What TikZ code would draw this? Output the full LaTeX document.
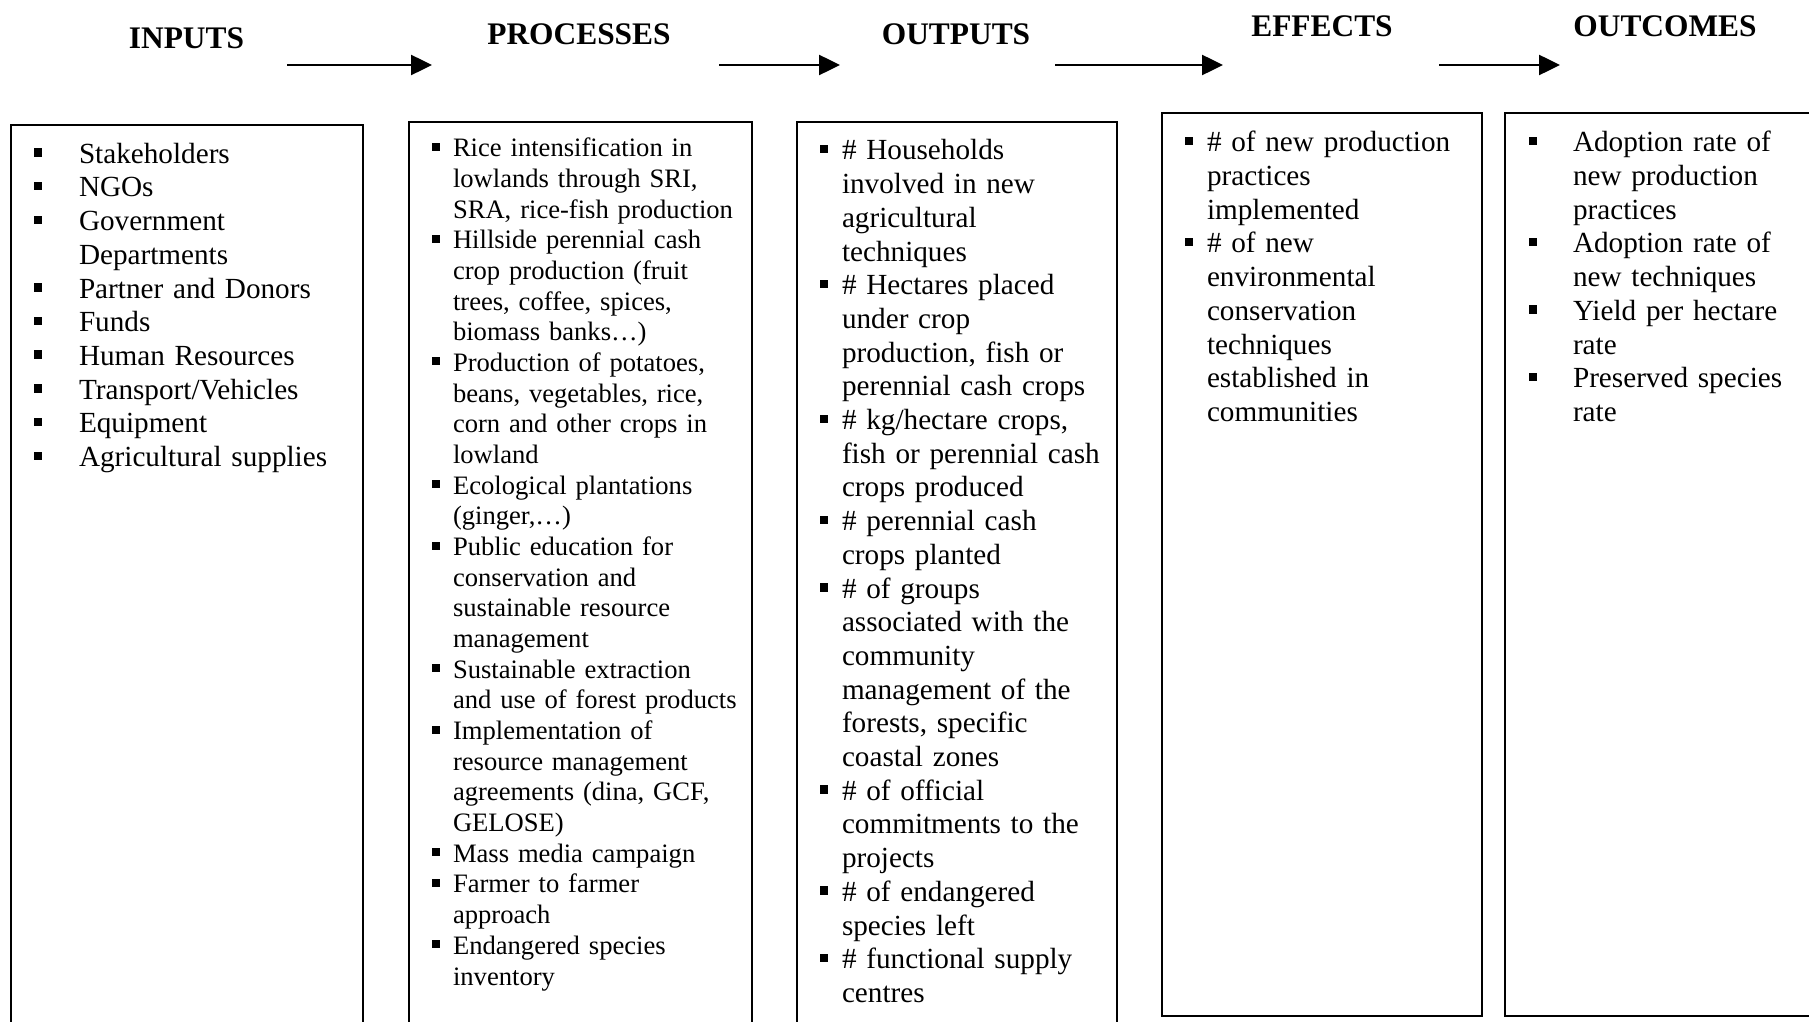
\documentclass[tikz,border=0pt]{standalone}
\usepackage{fontspec}
\setmainfont{Liberation Serif}
\usetikzlibrary{arrows.meta}
\setlength{\parindent}{0pt}
\setlength{\parskip}{0pt}
% square bullet hung to the left of a line: raise, side, gap to the text
\newcommand{\sqbul}[3]{\leavevmode\llap{\rule[#1]{#2}{#2}\hspace{#3}}}
\newcommand{\bulIn}{\sqbul{6.5pt}{8.5pt}{37pt}}
\newcommand{\bulPr}{\sqbul{6pt}{8pt}{13pt}}
\newcommand{\bulOu}{\sqbul{6.5pt}{8.5pt}{14pt}}
\newcommand{\bulEf}{\sqbul{6.5pt}{8.5pt}{14pt}}
\newcommand{\bulOc}{\sqbul{6.5pt}{8.5pt}{36pt}}
\begin{document}
\begin{tikzpicture}[x=1pt,y=-1pt,
  every node/.style={inner sep=0pt,outer sep=0pt},
  title/.style={font=\fontsize{31.4}{36}\selectfont\bfseries,anchor=base},
  frame/.style={draw,line width=2pt,anchor=north west},
  bigtext/.style={anchor=north west,text width=#1,align=left,
    font=\fontsize{29.2}{33.7}\selectfont},
  smalltext/.style={anchor=north west,text width=#1,align=left,
    font=\fontsize{26.6}{30.68}\selectfont},
  flow/.style={line width=2.5pt,-{Triangle[length=21pt,width=20pt]}}]
\useasboundingbox (0,0) rectangle (1809,1022);
\clip (0,0) rectangle (1809,1022);

% column headings
\node[title] (tin)  at (186.5,49) {INPUTS};
\node[title] (tpr)  at (579,45)   {PROCESSES};
\node[title] (tou)  at (956,45)   {OUTPUTS};
\node[title] (tef)  at (1322,36.7){EFFECTS};
\node[title] (toc)  at (1665,37)  {OUTCOMES};

% arrows between the headings
\coordinate (a1s) at (287,65);  \coordinate (a1e) at (432,65);
\coordinate (a2s) at (719,65);  \coordinate (a2e) at (840,65);
\coordinate (a3s) at (1055,65); \coordinate (a3e) at (1223,65);
\coordinate (a4s) at (1439,65); \coordinate (a4e) at (1560,65);
\draw[flow] (a1s) -- (a1e);
\draw[flow] (a2s) -- (a2e);
\draw[flow] (a3s) -- (a3e);
\draw[flow] (a4s) -- (a4e);

% frames
\node[frame,minimum width=352.3pt,minimum height=930pt] (fin) at (11,125) {};
\node[frame,minimum width=342.7pt,minimum height=930pt] (fpr) at (409,121.7) {};
\node[frame,minimum width=320pt,minimum height=930pt]   (fou) at (796.7,121.7) {};
\node[frame,minimum width=320pt,minimum height=903pt]   (fef) at (1162,113) {};
\node[frame,minimum width=330pt,minimum height=903pt]   (foc) at (1505,113) {};

% inputs
\node[bigtext=280pt] (lin) at (79,139.7) {\strut\bulIn Stakeholders\\
\bulIn NGOs\\
\bulIn Government\\
Departments\\
\bulIn Partner and Donors\\
\bulIn Funds\\
\bulIn Human Resources\\
\bulIn Transport/Vehicles\\
\bulIn Equipment\\
\bulIn Agricultural supplies};

% processes
\node[smalltext=295pt] (lpr) at (453,135.2) {\strut\bulPr Rice intensification in\\
lowlands through SRI,\\
SRA, rice-fish production\\
\bulPr Hillside perennial cash\\
crop production (fruit\\
trees, coffee, spices,\\
biomass banks…)\\
\bulPr Production of potatoes,\\
beans, vegetables, rice,\\
corn and other crops in\\
lowland\\
\bulPr Ecological plantations\\
(ginger,…)\\
\bulPr Public education for\\
conservation and\\
sustainable resource\\
management\\
\bulPr Sustainable extraction\\
and use of forest products\\
\bulPr Implementation of\\
resource management\\
agreements (dina, GCF,\\
GELOSE)\\
\bulPr Mass media campaign\\
\bulPr Farmer to farmer\\
approach\\
\bulPr Endangered species\\
inventory};

% outputs
\node[bigtext=270pt] (lou) at (842,136.4) {\strut\bulOu \# Households\\
involved in new\\
agricultural\\
techniques\\
\bulOu \# Hectares placed\\
under crop\\
production, fish or\\
perennial cash crops\\
\bulOu \# kg/hectare crops,\\
fish or perennial cash\\
crops produced\\
\bulOu \# perennial cash\\
crops planted\\
\bulOu \# of groups\\
associated with the\\
community\\
management of the\\
forests, specific\\
coastal zones\\
\bulOu \# of official\\
commitments to the\\
projects\\
\bulOu \# of endangered\\
species left\\
\bulOu \# functional supply\\
centres};

% effects
\node[bigtext=270pt] (lef) at (1207,128.25) {\strut\bulEf \# of new production\\
practices\\
implemented\\
\bulEf \# of new\\
environmental\\
conservation\\
techniques\\
established in\\
communities};

% outcomes
\node[bigtext=230pt] (loc) at (1573,128.25) {\strut\bulOc Adoption rate of\\
new production\\
practices\\
\bulOc Adoption rate of\\
new techniques\\
\bulOc Yield per hectare\\
rate\\
\bulOc Preserved species\\
rate};
\end{tikzpicture}
\end{document}
